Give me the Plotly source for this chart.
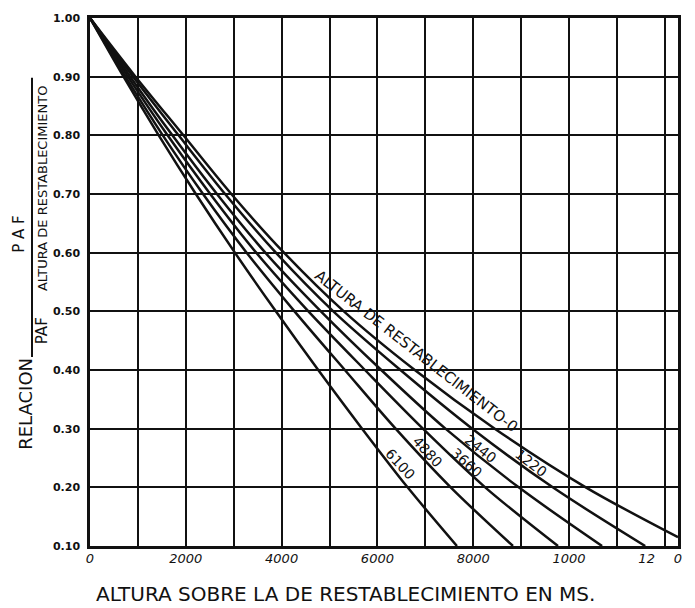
import plotly.graph_objects as go

# ---- data ----
y_levels = [1.0, 0.9, 0.8, 0.7, 0.6, 0.5, 0.4, 0.3, 0.2, 0.1]
x_6100 = [0, 700, 1435, 2210, 3025, 3880, 4765, 5680, 6630, 7660]
x_4880 = [0, 740, 1520, 2360, 3270, 4270, 5320, 6380, 7530, 8830]
x_3660 = [0, 790, 1620, 2510, 3470, 4560, 5740, 6950, 8250, 9770]
x_2440 = [0, 840, 1720, 2650, 3660, 4820, 6080, 7420, 8950, 10690]
x_1220 = [0, 900, 1850, 2820, 3880, 5080, 6480, 7980, 9660, 11590]
x_0 = [0, 950, 1950, 2950, 4050, 5300, 6780, 8450, 10350, 12275]
y_0 = [1.0, 0.9, 0.8, 0.7, 0.6, 0.5, 0.4, 0.3, 0.2, 0.115]

curve_labels = ["6100", "4880", "3660", "2440", "1220", "ALTURA DE RESTABLECIMIENTO-0"]
label_x = [6472, 7056, 7871, 8163, 9207, 6800]
label_y = [0.239, 0.261, 0.242, 0.266, 0.241, 0.432]
label_angle = [47, 47, 42, 38, 38, 38]

grid_x = [0, 1000, 2000, 3000, 4000, 5000, 6000, 7000, 8000, 9000, 10000, 11000, 12000]
x_tick_vals = [0, 2000, 4000, 6000, 8000, 10000, 11620, 12275]
x_tick_text = ["0", "2000", "4000", "6000", "8000", "1000", "12", "0"]
y_tick_vals = [0.1, 0.2, 0.3, 0.4, 0.5, 0.6, 0.7, 0.8, 0.9, 1.0]
y_tick_text = ["0.10", "0.20", "0.30", "0.40", "0.50", "0.60", "0.70", "0.80", "0.90", "1.00"]

x_title = "ALTURA SOBRE LA DE RESTABLECIMIENTO EN MS."

FONT = "DejaVu Sans"
INK = "#111111"
X_RANGE = [0, 12275]

fig = go.Figure()
series = [(x_6100, y_levels), (x_4880, y_levels), (x_3660, y_levels),
          (x_2440, y_levels), (x_1220, y_levels), (x_0, y_0)]
for xs, ys in series:
    fig.add_trace(go.Scatter(x=xs, y=ys, mode="lines",
                             line=dict(color=INK, width=2.5, shape="spline", smoothing=0.9),
                             showlegend=False, hoverinfo="skip"))
# invisible trace so the label axis is rendered
fig.add_trace(go.Scatter(x=x_0, y=y_0, xaxis="x2", mode="lines", opacity=0,
                         showlegend=False, hoverinfo="skip"))

for t, lx, ly, ang in zip(curve_labels, label_x, label_y, label_angle):
    fig.add_annotation(x=lx, y=ly, text=t, textangle=ang, showarrow=False,
                       font=dict(family=FONT, size=15 if len(t) > 4 else 14, color=INK),
                       xanchor="center", yanchor="middle")

def px_to_paper_x(px):
    return (px - 90) / 588.0

def py_to_paper_y(py):
    return (546 - py) / 531.0

# x title
fig.add_annotation(xref="paper", yref="paper", x=px_to_paper_x(345), y=py_to_paper_y(594),
                   text=x_title, showarrow=False,
                   font=dict(family=FONT, size=20, color=INK), xanchor="center", yanchor="middle")

# y-axis composite title: RELACION  PAF / PAF ALTURA DE RESTABLECIMIENTO
fig.add_annotation(xref="paper", yref="paper", x=px_to_paper_x(26), y=py_to_paper_y(403),
                   text="RELACION", textangle=-90, showarrow=False,
                   font=dict(family=FONT, size=18, color=INK), xanchor="center", yanchor="middle")
fig.add_annotation(xref="paper", yref="paper", x=px_to_paper_x(19), y=py_to_paper_y(233),
                   text="P A F", textangle=-90, showarrow=False,
                   font=dict(family=FONT, size=15, color=INK), xanchor="center", yanchor="middle")
fig.add_annotation(xref="paper", yref="paper", x=px_to_paper_x(42), y=py_to_paper_y(330),
                   text="PAF", textangle=-90, showarrow=False,
                   font=dict(family=FONT, size=15, color=INK), xanchor="center", yanchor="middle")
fig.add_annotation(xref="paper", yref="paper", x=px_to_paper_x(42), y=py_to_paper_y(187),
                   text="ALTURA DE RESTABLECIMIENTO", textangle=-90, showarrow=False,
                   font=dict(family=FONT, size=13, color=INK), xanchor="center", yanchor="middle")
fig.add_shape(type="line", xref="paper", yref="paper",
              x0=px_to_paper_x(32), x1=px_to_paper_x(32),
              y0=py_to_paper_y(75), y1=py_to_paper_y(356),
              line=dict(color=INK, width=2))

fig.update_layout(
    width=695, height=608,
    margin=dict(l=90, r=17, t=15, b=62),
    paper_bgcolor="white", plot_bgcolor="white",
    xaxis=dict(range=X_RANGE, showgrid=True, gridcolor=INK, gridwidth=2,
               tickvals=grid_x, ticktext=[""] * len(grid_x), ticks="",
               showline=True, linecolor=INK, linewidth=2.5, mirror=True,
               zeroline=False, fixedrange=True),
    xaxis2=dict(range=X_RANGE, overlaying="x", side="bottom", anchor="y",
                showgrid=False, zeroline=False, showline=False, ticks="",
                tickvals=x_tick_vals, ticktext=x_tick_text, ticklabelstandoff=3,
                tickfont=dict(family=FONT, size=13, color=INK, style="italic"),
                fixedrange=True),
    yaxis=dict(range=[0.1, 1.0], showgrid=True, gridcolor=INK, gridwidth=2,
               tickvals=y_tick_vals, ticktext=y_tick_text, ticks="",
               tickfont=dict(family=FONT, size=11, color=INK, weight="bold"),
               ticklabelstandoff=5,
               showline=True, linecolor=INK, linewidth=2.5, mirror=True,
               zeroline=False, fixedrange=True),
)

fig.write_html("out.html")
